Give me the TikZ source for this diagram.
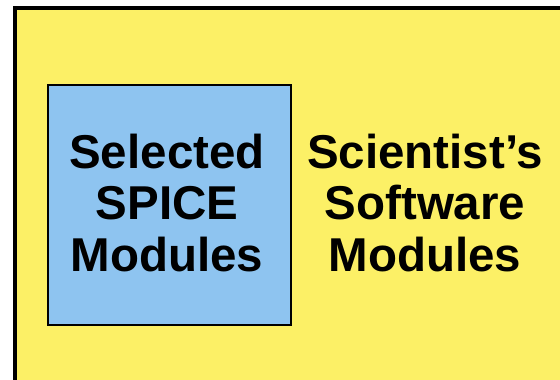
\documentclass[tikz,border=0pt]{standalone}
\usepackage{fontspec}
\setmainfont{Liberation Sans}
\definecolor{bgyellow}{RGB}{252,240,102}
\definecolor{boxblue}{RGB}{142,196,240}
\begin{document}
\begin{tikzpicture}[x=1pt,y=-1pt,
  lbl/.style={font=\bfseries\fontsize{47.5}{51.5}\selectfont,align=center,inner sep=0pt,text=black}]
\useasboundingbox (0,0) rectangle (560,380);
\fill[white] (0,0) rectangle (560,380);
\draw[fill=bgyellow,line width=4pt] (15,8) rectangle (620,440);
\node[draw=black,fill=boxblue,line width=1.5pt,minimum width=243pt,minimum height=240pt,inner sep=0pt,anchor=north west] (spice) at (47,84) {};
\node[lbl] (spicetext) at (167,203) {Selected\\SPICE\\Modules};
\node[lbl] (scitext) at (425,203) {Scientist’s\\Software\\Modules};
\end{tikzpicture}
\end{document}
